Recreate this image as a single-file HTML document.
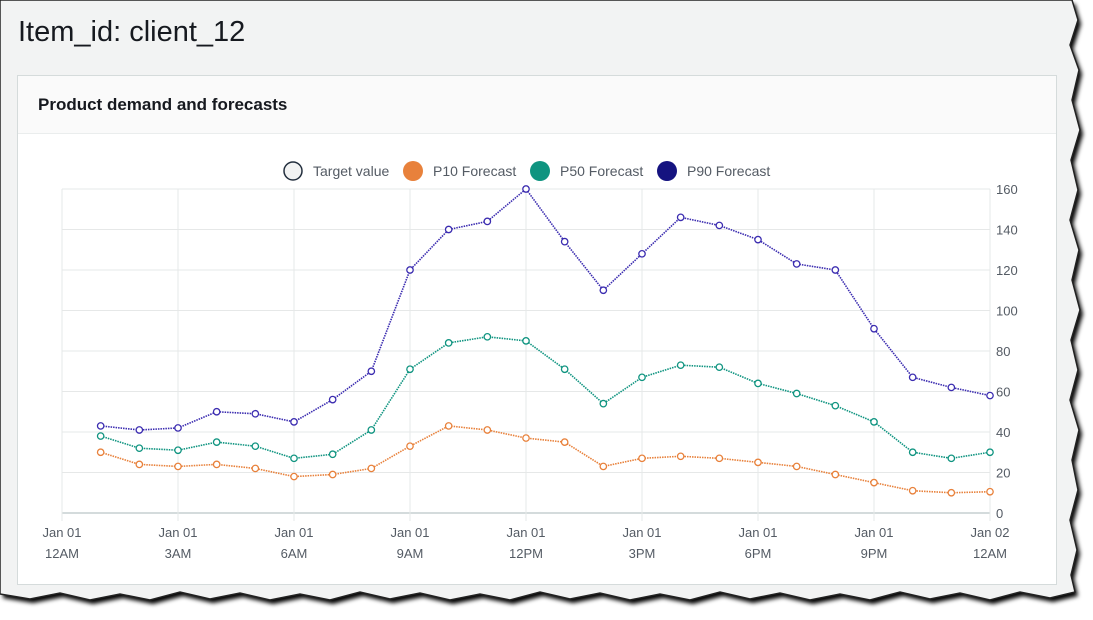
<!DOCTYPE html>
<html><head><meta charset="utf-8"><style>
html,body{margin:0;padding:0;background:#fff;width:1093px;height:620px;overflow:hidden;font-family:"Liberation Sans",sans-serif}
</style></head><body>
<svg width="1093" height="620" viewBox="0 0 1093 620" xmlns="http://www.w3.org/2000/svg" font-family="Liberation Sans, sans-serif">
<defs><filter id="sh" x="-5%" y="-5%" width="110%" height="115%"><feGaussianBlur stdDeviation="2"/></filter></defs>
<polygon points="0,0 1072,0 1078,20 1070,45 1079,70 1072,100 1080,130 1071,160 1078,190 1070,220 1079,250 1072,280 1080,310 1071,340 1078,370 1070,400 1079,430 1072,460 1078,490 1070,520 1077,550 1071,575 1075,592 1050,598 1020,592 990,600 960,593 930,599 900,592 870,600 840,594 810,600 780,593 750,599 720,592 690,600 660,594 630,600 600,593 570,599 540,592 510,600 480,594 450,600 420,593 390,599 360,592 330,600 300,594 270,600 240,593 210,599 180,592 150,600 120,594 90,600 60,593 30,599 0,594" fill="#000" filter="url(#sh)" transform="translate(3,4)"/>
<polygon points="0,0 1072,0 1078,20 1070,45 1079,70 1072,100 1080,130 1071,160 1078,190 1070,220 1079,250 1072,280 1080,310 1071,340 1078,370 1070,400 1079,430 1072,460 1078,490 1070,520 1077,550 1071,575 1075,592 1050,598 1020,592 990,600 960,593 930,599 900,592 870,600 840,594 810,600 780,593 750,599 720,592 690,600 660,594 630,600 600,593 570,599 540,592 510,600 480,594 450,600 420,593 390,599 360,592 330,600 300,594 270,600 240,593 210,599 180,592 150,600 120,594 90,600 60,593 30,599 0,594" fill="#f2f3f3" stroke="#222" stroke-width="1.5"/>
<text x="18" y="41" font-size="29" fill="#16191f">Item_id: client_12</text>
<rect x="17.5" y="75.5" width="1039" height="509" fill="#fff" stroke="#d5dbdb"/>
<rect x="18" y="76" width="1038" height="57" fill="#fafafa"/>
<line x1="18" y1="133.5" x2="1056" y2="133.5" stroke="#eaeded"/>
<text x="38" y="110" font-size="17" font-weight="bold" fill="#16191f">Product demand and forecasts</text>
<g font-size="14" fill="#545b64">
<circle cx="293" cy="171" r="9" fill="#f2f3f3" stroke="#232f3e" stroke-width="1.5"/><text x="313" y="176">Target value</text>
<circle cx="413" cy="171" r="10" fill="#e8813b"/><text x="433" y="176">P10 Forecast</text>
<circle cx="540" cy="171" r="10" fill="#0f9480"/><text x="560" y="176">P50 Forecast</text>
<circle cx="667" cy="171" r="10" fill="#151380"/><text x="687" y="176">P90 Forecast</text>
</g>
<g id="grid" stroke="#e6e8e8" stroke-width="1"></g>
<g id="ax" font-size="13" fill="#545b64"></g>
<g id="series"></g>
</svg>
<script>
var ns="http://www.w3.org/2000/svg";
function el(p,t,a,txt){var e=document.createElementNS(ns,t);for(var k in a)e.setAttribute(k,a[k]);if(txt!==undefined)e.textContent=txt;p.appendChild(e);return e;}
var g=document.getElementById('grid'),ax=document.getElementById('ax'),s=document.getElementById('series');
var x0=62,x1=990,y0=513,py=324/160;
function Y(v){return y0-v*py;}
for(var v=0;v<=160;v+=20){el(g,'line',{x1:x0,x2:x1,y1:Y(v),y2:Y(v),stroke:v==0?'#aab7b8':'#e6e8e8'});el(ax,'text',{x:x1+6,y:Y(v)+5},v);}
var labs=['12AM','3AM','6AM','9AM','12PM','3PM','6PM','9PM','12AM'];
for(var i=0;i<=8;i++){var x=x0+(x1-x0)*i/8;el(g,'line',{x1:x,x2:x,y1:189,y2:y0+8,stroke:'#e6e8e8'});
el(ax,'text',{x:x,y:537,'text-anchor':'middle'},i==8?'Jan 02':'Jan 01');el(ax,'text',{x:x,y:558,'text-anchor':'middle'},labs[i]);}
var data=[
['#e8813b',[30,24,23,24,22,18,19,22,33,43,41,37,35,23,27,28,27,25,23,19,15,11,10,10.5]],
['#0f9480',[38,32,31,35,33,27,29,41,71,84,87,85,71,54,67,73,72,64,59,53,45,30,27,30]],
['#3b2cb0',[43,41,42,50,49,45,56,70,120,140,144,160,134,110,128,146,142,135,123,120,91,67,62,58]]];
data.forEach(function(d){var pts=d[1].map(function(v,i){return [x0+(x1-x0)*(i+1)/24,Y(v)];});
el(s,'polyline',{points:pts.map(function(p){return p.join(',')}).join(' '),fill:'none',stroke:d[0],'stroke-width':1.6,'stroke-dasharray':'1.5 1'});
pts.forEach(function(p){el(s,'circle',{cx:p[0],cy:p[1],r:3.2,fill:'#fff',stroke:d[0],'stroke-width':1.3});});});
</script>
</body></html>
